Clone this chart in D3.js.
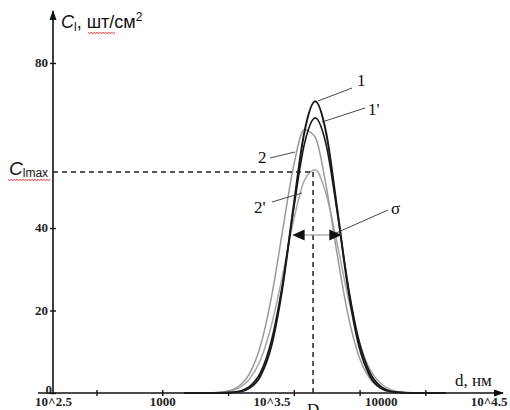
<!DOCTYPE html>
<html>
<head>
<meta charset="utf-8">
<script src="https://cdn.jsdelivr.net/npm/d3@7"></script>
<style>
  body { margin: 0; background: #fff; }
  svg { display: block; }
  .lbl { font-family: "Liberation Serif", serif; font-size: 17px; fill: #111; }
</style>
</head>
<body>
<script>
// log10 of diameter (nm)
const logD = [3.10, 3.15, 3.20, 3.25, 3.30, 3.35, 3.40, 3.45, 3.50, 3.55, 3.60, 3.65, 3.70,
              3.75, 3.80, 3.85, 3.90, 3.95, 4.00, 4.05, 4.10, 4.15, 4.20, 4.25, 4.30];

// curve 1, 1', 2, 2'
const c1  = [0, 0, 0, 0.01, 0.05, 0.27, 1.2, 4.2, 11.5, 25.5, 44.9, 63.1, 70.7,
             63.1, 44.9, 25.5, 11.5, 4.2, 1.2, 0.27, 0.05, 0.01, 0, 0, 0];
const c1p = [0, 0, 0, 0.02, 0.09, 0.42, 1.6, 5.0, 12.8, 26.3, 44.1, 60.2, 66.7,
             60.2, 44.1, 26.3, 12.8, 5.0, 1.6, 0.42, 0.09, 0.02, 0, 0, 0];
const c2  = [0, 0, 0.02, 0.11, 0.47, 1.64, 4.77, 11.5, 23.3, 39.1, 54.7, 63.8, 62.0,
             50.2, 33.8, 19.0, 8.9, 3.5, 1.1, 0.3, 0.07, 0.01, 0, 0, 0];
const c2p = [0, 0, 0.02, 0.09, 0.36, 1.19, 3.4, 8.1, 16.5, 28.4, 41.5, 51.5, 54.1,
             48.2, 36.4, 23.3, 12.7, 5.8, 2.3, 0.75, 0.21, 0.05, 0.01, 0, 0];

const xLabelVals = [Math.pow(10, 2.5), 1000, Math.pow(10, 3.5), 10000, Math.pow(10, 4.5)];
const xLabelText = ['10^2.5', '1000', '10^3.5', '10000', '10^4.5'];
const xTickVals = [500, 1000, 2000, 4000, 8000, 16000];
const yTickVals = [0, 20, 40, 80];

const D = 4900;      // D, nm
const Cmax = 53.6;   // C_lmax
const sigmaL = 3950, sigmaR = 6600, sigmaY = 38.3;

const width = 510, height = 410;

let svg = d3.select('body').append('svg')
    .attr('width', width)
    .attr('height', height);

let x = d3.scaleLog().domain([Math.pow(10, 2.5), Math.pow(10, 4.5)]).range([53, 490]);
let y = d3.scaleLinear().domain([0, 80]).range([393, 63]);

// arrow markers
let defs = svg.append('defs');
defs.append('marker').attr('id', 'ax').attr('viewBox', '0 0 10 10')
    .attr('refX', 9).attr('refY', 5).attr('markerWidth', 10).attr('markerHeight', 10)
    .attr('markerUnits', 'userSpaceOnUse').attr('orient', 'auto')
    .append('path').attr('d', 'M0,1.5 L10,5 L0,8.5 Z').attr('fill', '#111');
defs.append('marker').attr('id', 'sg').attr('viewBox', '0 0 10 10')
    .attr('refX', 10).attr('refY', 5).attr('markerWidth', 12).attr('markerHeight', 12)
    .attr('markerUnits', 'userSpaceOnUse').attr('orient', 'auto-start-reverse')
    .append('path').attr('d', 'M0,0.5 L10,5 L0,9.5 Z').attr('fill', '#111');

// axes lines
svg.append('line')
    .attr('x1', 38).attr('x2', 503).attr('y1', y(0)).attr('y2', y(0))
    .attr('stroke', '#111').attr('stroke-width', 1.6).attr('marker-end', 'url(#ax)');
svg.append('line')
    .attr('x1', x.range()[0]).attr('x2', x.range()[0]).attr('y1', y(0)).attr('y2', 11)
    .attr('stroke', '#111').attr('stroke-width', 1.6).attr('marker-end', 'url(#ax)');

function tickFont(g) {
    g.attr('font-family', '"Liberation Serif", "Times New Roman", serif')
        .attr('font-weight', 'bold')
        .attr('font-size', 13);
    g.selectAll('.tick text').attr('fill', '#222');
}

// y axis
let yAxis = svg.append('g').attr('transform', `translate(${x.range()[0]},0)`)
    .call(d3.axisLeft(y).tickValues(yTickVals).tickSize(3).tickPadding(2))
    .call(tickFont);
yAxis.select('.domain').remove();
yAxis.selectAll('.tick line').attr('x1', 3).attr('stroke', '#111').attr('stroke-width', 1.4);
yAxis.selectAll('.tick text').attr('dy', '0.3em');
yAxis.selectAll('.tick').filter(d => d === 0).select('text').attr('dy', '0.05em').attr('x', -1);

// x axis ticks
let xTicks = svg.append('g').attr('transform', `translate(0,${y(0)})`)
    .call(d3.axisBottom(x).tickValues(xTickVals).tickSize(3).tickFormat(''));
xTicks.select('.domain').remove();
xTicks.selectAll('.tick line').attr('y1', -3).attr('stroke', '#111').attr('stroke-width', 1.4);

// x axis labels
let xAxis = svg.append('g').attr('transform', `translate(0,${y(0)})`)
    .call(d3.axisBottom(x).tickValues(xLabelVals).tickSize(0).tickPadding(4)
        .tickFormat((d, i) => xLabelText[i]))
    .call(tickFont);
xAxis.select('.domain').remove();
xAxis.selectAll('.tick').filter((d, i) => i === 4).select('text').attr('dx', '-0.1em');

// curves
let line = d3.line()
    .x((d, i) => x(Math.pow(10, logD[i])))
    .y(d => y(d))
    .curve(d3.curveMonotoneX);

const series = [
    { v: c2p, color: '#a8a8a8', w: 1.5 },
    { v: c2, color: '#9a9a9a', w: 1.5 },
    { v: c1p, color: '#1a1a1a', w: 1.6 },
    { v: c1, color: '#1a1a1a', w: 2 }
];
svg.selectAll('path.curve').data(series).enter().append('path')
    .attr('class', 'curve')
    .attr('fill', 'none')
    .attr('stroke', d => d.color)
    .attr('stroke-width', d => d.w)
    .attr('d', d => line(d.v));

// dashed guides
svg.append('line')
    .attr('x1', x.range()[0]).attr('x2', x(D)).attr('y1', y(Cmax)).attr('y2', y(Cmax))
    .attr('stroke', '#222').attr('stroke-width', 1.5).attr('stroke-dasharray', '5,4');
svg.append('line')
    .attr('x1', x(D)).attr('x2', x(D)).attr('y1', y(Cmax)).attr('y2', y(0))
    .attr('stroke', '#222').attr('stroke-width', 1.5).attr('stroke-dasharray', '5,4');

// sigma arrow
svg.append('line')
    .attr('x1', x(sigmaL)).attr('x2', x(sigmaR)).attr('y1', y(sigmaY)).attr('y2', y(sigmaY))
    .attr('stroke', '#888').attr('stroke-width', 1.2)
    .attr('marker-start', 'url(#sg)').attr('marker-end', 'url(#sg)');

// leader lines and curve labels
const leaders = [
    { txt: '1', tx: 357, ty: 86, l: [352, 88, 318, 101] },
    { txt: "1'", tx: 368, ty: 115, l: [365, 108, 322, 122] },
    { txt: '2', tx: 258, ty: 163, l: [270, 158, 295, 152] },
    { txt: "2'", tx: 254, ty: 213, l: [272, 202, 302, 193] },
    { txt: 'σ', tx: 391, ty: 214, l: [388, 210, 336, 233] }
];
leaders.forEach(d => {
    svg.append('line')
        .attr('x1', d.l[0]).attr('y1', d.l[1]).attr('x2', d.l[2]).attr('y2', d.l[3])
        .attr('stroke', '#333').attr('stroke-width', 0.9);
    svg.append('text').attr('class', 'lbl').attr('x', d.tx).attr('y', d.ty).text(d.txt);
});

// axis titles
svg.append('text').attr('class', 'lbl')
    .attr('x', 455).attr('y', 386).attr('font-size', 15)
    .text('d, нм');
svg.append('text').attr('class', 'lbl')
    .attr('x', x(D)).attr('y', 415).attr('text-anchor', 'middle').attr('font-size', 19)
    .text('D');

let yTitle = svg.append('text')
    .attr('x', 61).attr('y', 28)
    .attr('font-family', '"Liberation Sans", Arial, sans-serif')
    .attr('font-size', 18).attr('fill', '#111');
yTitle.append('tspan').attr('font-style', 'italic').text('C');
yTitle.append('tspan').attr('font-size', 12).attr('dy', 3).text('l');
yTitle.append('tspan').attr('dy', -3).text(', шт/см');
yTitle.append('tspan').attr('font-size', 12).attr('dy', -7).text('2');

let cTitle = svg.append('text')
    .attr('x', 9).attr('y', 175)
    .attr('font-family', '"Liberation Sans", Arial, sans-serif')
    .attr('font-size', 19).attr('fill', '#111');
cTitle.append('tspan').attr('font-style', 'italic').text('C');
cTitle.append('tspan').attr('font-size', 12).attr('dy', 2).text('lmax');

// spell-check squiggles
function squiggle(x0, x1, yy) {
    let pts = [];
    for (let xx = x0, k = 0; xx <= x1; xx += 1.5, k++) pts.push([xx, yy + (k % 2 ? 1 : -1)]);
    svg.append('path').attr('d', d3.line()(pts))
        .attr('fill', 'none').attr('stroke', '#e03030').attr('stroke-width', 0.8);
}
squiggle(88, 116, 33);
squiggle(8, 51, 180);
</script>
</body>
</html>
